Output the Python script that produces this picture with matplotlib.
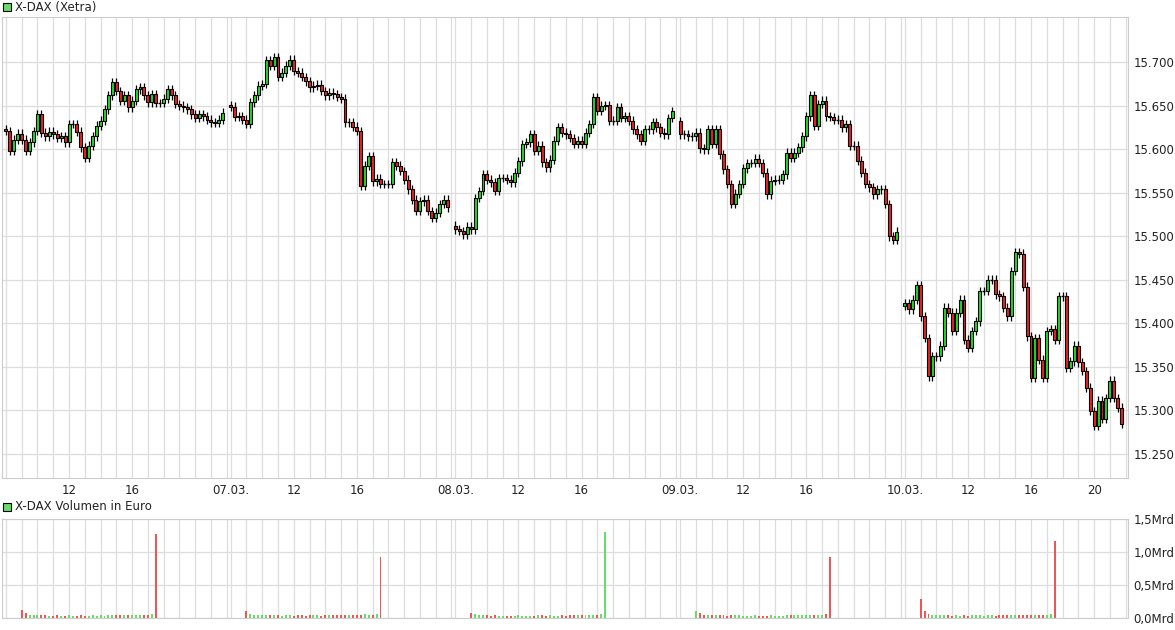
import numpy as np
import matplotlib
matplotlib.use("Agg")
from matplotlib import pyplot as plt

# 15-minute closes per trading day (08:00 - 22:00, 56 candles each)
day_labels = ["06.03.", "07.03.", "08.03.", "09.03.", "10.03."]
day_opens = [15623, 15651, 15512, 15632, 15420]
closes_d1 = [15621, 15598, 15611, 15618, 15611, 15598, 15608, 15621, 15640, 15619, 15615, 15620, 15617, 15613,
             15615, 15608, 15629, 15629, 15620, 15602, 15590, 15604, 15615, 15627, 15633, 15646, 15662, 15677,
             15667, 15656, 15662, 15648, 15656, 15669, 15671, 15662, 15654, 15663, 15653, 15653, 15658, 15669,
             15662, 15652, 15650, 15648, 15646, 15640, 15636, 15640, 15638, 15634, 15631, 15630, 15634, 15642]
closes_d2 = [15649, 15637, 15638, 15634, 15629, 15654, 15662, 15673, 15675, 15702, 15696, 15706, 15683, 15688,
             15696, 15703, 15690, 15688, 15683, 15678, 15671, 15673, 15674, 15667, 15662, 15665, 15663, 15660,
             15658, 15631, 15631, 15626, 15621, 15558, 15581, 15592, 15563, 15566, 15560, 15560, 15560, 15585,
             15581, 15575, 15565, 15554, 15542, 15529, 15540, 15542, 15529, 15521, 15527, 15537, 15542, 15533]
closes_d3 = [15508, 15506, 15502, 15511, 15508, 15544, 15552, 15571, 15565, 15562, 15552, 15567, 15567, 15565,
             15562, 15573, 15586, 15606, 15608, 15617, 15598, 15604, 15585, 15579, 15588, 15610, 15625, 15619,
             15617, 15613, 15606, 15610, 15606, 15619, 15629, 15660, 15644, 15650, 15651, 15633, 15633, 15648,
             15636, 15638, 15633, 15623, 15617, 15610, 15623, 15623, 15631, 15625, 15619, 15617, 15636, 15644]
closes_d4 = [15617, 15617, 15615, 15615, 15619, 15601, 15600, 15623, 15606, 15623, 15594, 15577, 15560, 15537,
             15549, 15560, 15578, 15584, 15584, 15589, 15584, 15573, 15548, 15564, 15565, 15565, 15571, 15596,
             15590, 15596, 15602, 15615, 15638, 15662, 15627, 15652, 15656, 15638, 15637, 15634, 15634, 15625,
             15629, 15604, 15604, 15587, 15573, 15560, 15556, 15548, 15554, 15554, 15537, 15500, 15496, 15505]
closes_d5 = [15423, 15416, 15427, 15444, 15408, 15383, 15339, 15362, 15362, 15374, 15418, 15412, 15391, 15412,
             15427, 15381, 15372, 15391, 15402, 15437, 15437, 15450, 15450, 15433, 15431, 15418, 15408, 15460,
             15482, 15480, 15442, 15385, 15337, 15383, 15358, 15337, 15391, 15393, 15381, 15431, 15431, 15349,
             15356, 15374, 15355, 15345, 15326, 15299, 15282, 15311, 15290, 15314, 15334, 15314, 15303, 15284]
all_closes = [closes_d1, closes_d2, closes_d3, closes_d4, closes_d5]

# Volume in Mio EUR per candle (Xetra hours 09:00-17:30 carry volume, spike at closing auction)
vol_d1 = [3, 3, 4, 3, 120, 70, 45, 45, 40, 45, 38, 35, 35, 38, 35, 35, 38, 35, 32, 38, 35, 32, 40, 35, 38,
          35, 40, 38, 40, 45, 40, 38, 45, 40, 45, 40, 45, 60, 1280, 4, 3, 3, 4, 3, 3, 3, 3, 4, 3, 3, 3, 4,
          3, 3, 3, 3]
vol_d2 = [3, 4, 3, 3, 110, 65, 45, 42, 45, 40, 38, 40, 38, 35, 40, 38, 35, 38, 40, 35, 38, 38, 40, 35, 38,
          40, 38, 42, 40, 45, 42, 40, 45, 50, 55, 50, 45, 60, 920, 4, 3, 3, 3, 3, 4, 3, 3, 3, 3, 3, 3, 3,
          3, 3, 3, 3]
vol_d3 = [3, 3, 3, 4, 75, 55, 42, 40, 38, 35, 38, 32, 35, 32, 32, 35, 38, 32, 35, 32, 35, 38, 42, 35, 38,
          35, 32, 38, 35, 38, 42, 45, 38, 42, 45, 50, 42, 55, 1300, 4, 3, 3, 3, 3, 3, 3, 3, 3, 3, 3, 3, 3,
          3, 3, 3, 3]
vol_d4 = [3, 3, 4, 3, 100, 70, 48, 45, 40, 42, 45, 40, 35, 40, 42, 40, 35, 32, 35, 40, 35, 32, 35, 40, 35,
          32, 35, 40, 42, 40, 45, 50, 42, 45, 40, 40, 45, 60, 930, 4, 3, 3, 3, 3, 3, 3, 3, 3, 3, 3, 3, 3,
          3, 3, 3, 3]
vol_d5 = [4, 3, 3, 4, 290, 100, 60, 50, 45, 40, 38, 40, 35, 38, 35, 40, 35, 38, 40, 38, 35, 40, 38, 35, 40,
          45, 40, 38, 45, 50, 45, 40, 45, 50, 48, 45, 50, 60, 1170, 5, 4, 4, 3, 4, 3, 4, 3, 3, 4, 3, 3, 3,
          4, 3, 3, 3]
all_vols = [vol_d1, vol_d2, vol_d3, vol_d4, vol_d5]

SLOTS_PER_DAY = 57
GREEN = "#22dd22"
RED = "#ee2222"
VGREEN = "#66dd66"
VRED = "#ee5555"
GRID = "#dddddd"

fig = plt.figure(figsize=(11.75, 6.3), dpi=100)
ax = fig.add_axes([2 / 1175, 1 - 478 / 630, 1126 / 1175, 461 / 630])
axv = fig.add_axes([2 / 1175, 1 - 618 / 630, 1126 / 1175, 99 / 630])

xs, opens, closes, vols = [], [], [], []
for d, (cl, vl) in enumerate(zip(all_closes, all_vols)):
    prev = day_opens[d]
    for i, (c, v) in enumerate(zip(cl, vl)):
        xs.append(d * SLOTS_PER_DAY + i)
        opens.append(prev)
        closes.append(c)
        vols.append(v)
        prev = c
xs = np.array(xs)
opens = np.array(opens, dtype=float)
closes = np.array(closes, dtype=float)
vols = np.array(vols, dtype=float)
up = closes >= opens

# grid: hourly vertical lines
for d in range(5):
    for h in range(15):
        for a in (ax, axv):
            a.axvline(d * SLOTS_PER_DAY + 4 * h, color=GRID, lw=0.9, zorder=0)

# candles
w = 0.75
for x, o, c, u in zip(xs, opens, closes, up):
    hi = max(o, c) + 5
    lo = min(o, c) - 5
    ax.vlines(x, lo, hi, color="black", lw=0.9, zorder=2)
    h = abs(c - o)
    if h < 0.8:
        ax.hlines(c, x - w / 2, x + w / 2, color="black", lw=1, zorder=3)
    else:
        ax.add_patch(plt.Rectangle((x - w / 2, min(o, c)), w, h, facecolor=GREEN if u else RED,
                                   edgecolor="black", lw=0.8, zorder=3))

ax.set_xlim(-1, 4 * SLOTS_PER_DAY + 56.6)
ax.set_ylim(15222, 15752)
ax.yaxis.tick_right()
yt = np.arange(15250, 15701, 50)
ax.set_yticks(yt)
ax.set_yticklabels([f"{v / 1000:.3f}" for v in yt])
ax.grid(axis="y", color=GRID, lw=0.9)
ax.set_axisbelow(True)

xt, xl = [], []
for d in range(5):
    if d > 0:
        xt.append(d * SLOTS_PER_DAY)
        xl.append(day_labels[d])
    xt += [d * SLOTS_PER_DAY + 16, d * SLOTS_PER_DAY + 32]
    xl += ["12", "16"]
xt.append(4 * SLOTS_PER_DAY + 48)
xl.append("20")
ax.set_xticks(xt)
ax.set_xticklabels(xl)

# volume
axv.bar(xs, vols / 1000, width=0.5, color=np.where(up, VGREEN, VRED), zorder=2)
axv.set_xlim(ax.get_xlim())
axv.set_ylim(0, 1.5)
axv.yaxis.tick_right()
axv.set_yticks([0, 0.5, 1.0, 1.5])
axv.set_yticklabels(["0,0Mrd", "0,5Mrd", "1,0Mrd", "1,5Mrd"])
axv.grid(axis="y", color=GRID, lw=0.9)
axv.set_xticks([])

for a in (ax, axv):
    a.tick_params(length=0, labelsize=8.5, colors="#222222", pad=4)
    for s in a.spines.values():
        s.set_color("#cccccc")

# panel titles with legend squares
for ytop, label, fc in ((1 - 7 / 630, "X-DAX (Xetra)", VGREEN), (1 - 507 / 630, "X-DAX Volumen in Euro", VGREEN)):
    fig.patches.append(plt.Rectangle((3 / 1175, ytop - 4 / 630), 8 / 1175, 8 / 630, transform=fig.transFigure,
                                     facecolor=fc, edgecolor="black", lw=0.8))
    fig.text(15 / 1175, ytop, label, fontsize=8.5, va="center", ha="left", color="#222222")

fig.savefig("out.png", dpi=100, facecolor="white")
